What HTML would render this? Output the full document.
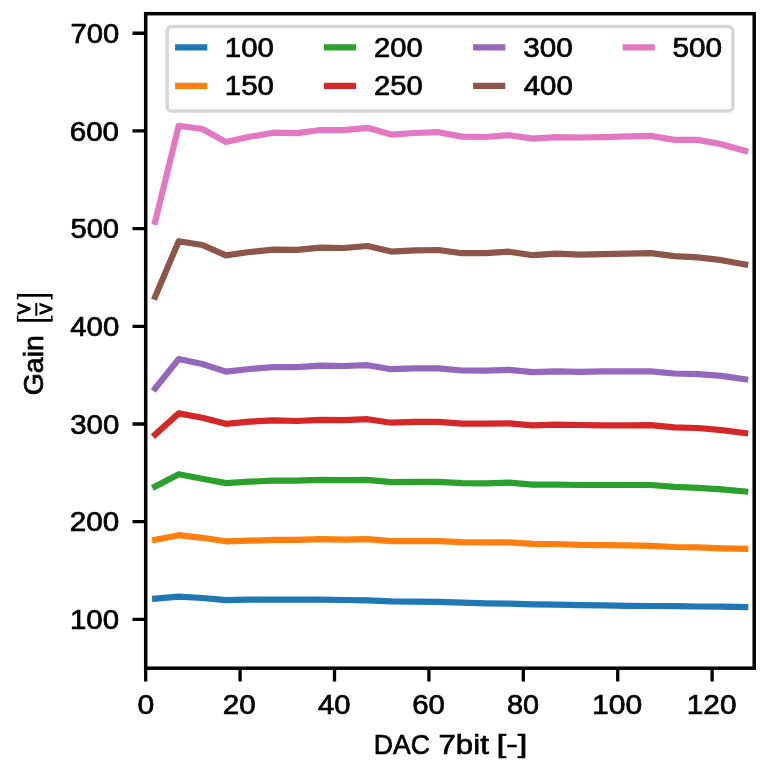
<!DOCTYPE html><html><head><meta charset="utf-8"><style>html,body{margin:0;padding:0;background:#fff;}svg{display:block;will-change:transform;}text{font-family:"Liberation Sans",sans-serif;font-kerning:none;fill:#000;stroke:#000;stroke-width:0.7px;}</style></head><body>
<svg width="775" height="784" viewBox="0 0 775 784">
<defs><clipPath id="ax"><rect x="145.7" y="13.7" width="608.9000000000001" height="654.5"/></clipPath></defs>
<g clip-path="url(#ax)" fill="none" stroke-width="6.2" stroke-linejoin="round" stroke-linecap="square">
<polyline points="155.14,598.70 178.74,596.70 202.34,598.00 225.94,600.20 249.54,599.70 273.14,599.70 296.74,599.70 320.35,599.70 343.95,600.00 367.55,600.30 391.15,601.30 414.75,601.70 438.35,601.90 461.95,602.70 485.55,603.30 509.15,603.70 532.75,604.30 556.35,604.70 579.95,605.10 603.56,605.30 627.16,605.80 650.76,606.00 674.36,606.20 697.96,606.50 721.56,606.70 745.16,607.00" stroke="#1f77b4"/>
<polyline points="155.14,539.80 178.74,535.20 202.34,537.80 225.94,541.30 249.54,540.70 273.14,539.80 296.74,539.90 320.35,539.20 343.95,539.70 367.55,539.20 391.15,541.20 414.75,541.10 438.35,541.20 461.95,542.20 485.55,542.30 509.15,542.30 532.75,543.80 556.35,544.00 579.95,544.90 603.56,545.10 627.16,545.30 650.76,545.80 674.36,547.00 697.96,547.40 721.56,548.40 745.16,548.90" stroke="#ff7f0e"/>
<polyline points="155.14,486.60 178.74,474.20 202.34,478.80 225.94,483.10 249.54,481.70 273.14,480.70 296.74,480.70 320.35,479.80 343.95,480.20 367.55,479.80 391.15,482.20 414.75,481.80 438.35,481.80 461.95,483.20 485.55,483.30 509.15,482.70 532.75,484.70 556.35,484.70 579.95,485.00 603.56,485.00 627.16,485.00 650.76,485.00 674.36,486.80 697.96,487.90 721.56,489.30 745.16,491.50" stroke="#2ca02c"/>
<polyline points="155.14,434.50 178.74,413.40 202.34,417.70 225.94,423.80 249.54,421.70 273.14,420.30 296.74,421.00 320.35,419.80 343.95,420.20 367.55,419.20 391.15,422.70 414.75,421.80 438.35,421.80 461.95,423.70 485.55,423.70 509.15,423.30 532.75,425.30 556.35,424.70 579.95,425.00 603.56,425.40 627.16,425.40 650.76,425.20 674.36,427.30 697.96,428.00 721.56,430.20 745.16,433.10" stroke="#d62728"/>
<polyline points="155.14,388.50 178.74,359.00 202.34,364.00 225.94,371.60 249.54,369.00 273.14,367.20 296.74,367.20 320.35,365.70 343.95,366.00 367.55,365.20 391.15,369.20 414.75,368.30 438.35,368.30 461.95,370.50 485.55,370.70 509.15,369.80 532.75,372.20 556.35,371.30 579.95,371.80 603.56,371.40 627.16,371.40 650.76,371.40 674.36,373.50 697.96,374.10 721.56,375.90 745.16,379.30" stroke="#9467bd"/>
<polyline points="155.14,296.80 178.74,241.20 202.34,245.00 225.94,255.40 249.54,252.00 273.14,249.60 296.74,249.80 320.35,247.60 343.95,248.00 367.55,246.00 391.15,251.60 414.75,250.30 438.35,250.00 461.95,253.20 485.55,253.20 509.15,251.70 532.75,255.20 556.35,253.70 579.95,254.70 603.56,254.20 627.16,253.70 650.76,253.20 674.36,256.10 697.96,257.30 721.56,260.20 745.16,264.50" stroke="#8c564b"/>
<polyline points="155.14,221.70 178.74,125.80 202.34,129.00 225.94,142.00 249.54,136.80 273.14,132.70 296.74,133.10 320.35,130.00 343.95,130.20 367.55,127.80 391.15,134.60 414.75,133.00 438.35,132.20 461.95,136.60 485.55,137.00 509.15,135.20 532.75,138.60 556.35,137.20 579.95,137.50 603.56,137.10 627.16,136.40 650.76,135.90 674.36,139.90 697.96,139.90 721.56,144.30 745.16,151.00" stroke="#e377c2"/>
</g>
<rect x="145.7" y="13.7" width="608.50" height="654.50" fill="none" stroke="#000" stroke-width="3.5" stroke-linejoin="miter" stroke-linecap="square"/>
<path d="M145.70,668.2V681.40 M240.10,668.2V681.40 M334.51,668.2V681.40 M428.91,668.2V681.40 M523.31,668.2V681.40 M617.72,668.2V681.40 M712.12,668.2V681.40 M145.7,619.36H132.50 M145.7,521.67H132.50 M145.7,423.98H132.50 M145.7,326.30H132.50 M145.7,228.61H132.50 M145.7,130.92H132.50 M145.7,33.24H132.50" stroke="#000" stroke-width="3.3" fill="none"/>
<text transform="translate(69.96,629.06) scale(1.0584,1.0000)" font-size="27.8">100</text>
<text transform="translate(69.81,531.37) scale(1.0661,1.0000)" font-size="27.8">200</text>
<text transform="translate(70.18,433.68) scale(1.0579,1.0000)" font-size="27.8">300</text>
<text transform="translate(70.23,336.00) scale(1.0569,1.0000)" font-size="27.8">400</text>
<text transform="translate(70.43,238.31) scale(1.0479,1.0000)" font-size="27.8">500</text>
<text transform="translate(69.80,140.62) scale(1.0619,1.0000)" font-size="27.8">600</text>
<text transform="translate(70.40,42.94) scale(1.0508,1.0000)" font-size="27.8">700</text>
<text transform="translate(137.52,714.00) scale(1.0836,1.0000)" font-size="27.8">0</text>
<text transform="translate(222.81,714.00) scale(1.0655,1.0000)" font-size="27.8">20</text>
<text transform="translate(318.03,714.00) scale(1.0514,1.0000)" font-size="27.8">40</text>
<text transform="translate(412.21,714.00) scale(1.0554,1.0000)" font-size="27.8">60</text>
<text transform="translate(507.05,714.00) scale(1.0374,1.0000)" font-size="27.8">80</text>
<text transform="translate(592.01,714.00) scale(1.0815,1.0000)" font-size="27.8">100</text>
<text transform="translate(686.73,714.00) scale(1.0723,1.0000)" font-size="27.8">120</text>
<text transform="translate(373.81,754.30) scale(0.9593,1.0000)" font-size="27.8">DAC</text>
<text transform="translate(438.50,754.30) scale(1.1229,1.0000)" font-size="27.8">7bit</text>
<text transform="translate(496.52,752.61) scale(1.2535,0.8992)" font-size="27.8">[-]</text>
<text transform="translate(42.8,395.33) rotate(-90) scale(1.0249,1)" font-size="27.8">Gain</text>
<path d="M17.6,299.6 V295.35 H51.8 V299.6" fill="none" stroke="#000" stroke-width="1.5"/>
<rect x="17" y="294" width="35.4" height="2.7" fill="#000"/>
<path d="M17.6,315.6 V320.35 H51.8 V315.6" fill="none" stroke="#000" stroke-width="1.5"/>
<rect x="17" y="319" width="35.4" height="2.7" fill="#000"/>
<rect x="35.3" y="303" width="2.0" height="12.8" fill="#000"/>
<text transform="translate(30.15,314.22) rotate(-90) scale(0.9551,1)" font-size="16.86" style="stroke-width:1.1px">V</text>
<text transform="translate(51.75,314.22) rotate(-90) scale(0.9551,1)" font-size="16.86" style="stroke-width:1.1px">V</text>
<rect x="167.2" y="26.5" width="565.7" height="84.5" rx="4.6" ry="4.6" fill="#fff" fill-opacity="0.8" stroke="#d6d6d6" stroke-width="3.4"/>
<line x1="178.20" y1="47.45" x2="204.20" y2="47.45" stroke="#1f77b4" stroke-width="6.2" stroke-linecap="square"/>
<text transform="translate(224.86,56.90) scale(1.0561,1.0000)" font-size="27.8">100</text>
<line x1="178.20" y1="85.8" x2="204.20" y2="85.8" stroke="#ff7f0e" stroke-width="6.2" stroke-linecap="square"/>
<text transform="translate(224.86,95.30) scale(1.0561,1.0000)" font-size="27.8">150</text>
<line x1="327.00" y1="47.45" x2="353.00" y2="47.45" stroke="#2ca02c" stroke-width="6.2" stroke-linecap="square"/>
<text transform="translate(373.93,56.90) scale(1.0501,1.0000)" font-size="27.8">200</text>
<line x1="327.00" y1="85.8" x2="353.00" y2="85.8" stroke="#d62728" stroke-width="6.2" stroke-linecap="square"/>
<text transform="translate(373.93,95.30) scale(1.0501,1.0000)" font-size="27.8">250</text>
<line x1="476.20" y1="47.45" x2="502.20" y2="47.45" stroke="#9467bd" stroke-width="6.2" stroke-linecap="square"/>
<text transform="translate(523.27,56.90) scale(1.0692,1.0000)" font-size="27.8">300</text>
<line x1="476.20" y1="85.8" x2="502.20" y2="85.8" stroke="#8c564b" stroke-width="6.2" stroke-linecap="square"/>
<text transform="translate(523.72,95.30) scale(1.0591,1.0000)" font-size="27.8">400</text>
<line x1="625.70" y1="47.45" x2="651.70" y2="47.45" stroke="#e377c2" stroke-width="6.2" stroke-linecap="square"/>
<text transform="translate(672.51,56.90) scale(1.0705,1.0000)" font-size="27.8">500</text>
</svg></body></html>
